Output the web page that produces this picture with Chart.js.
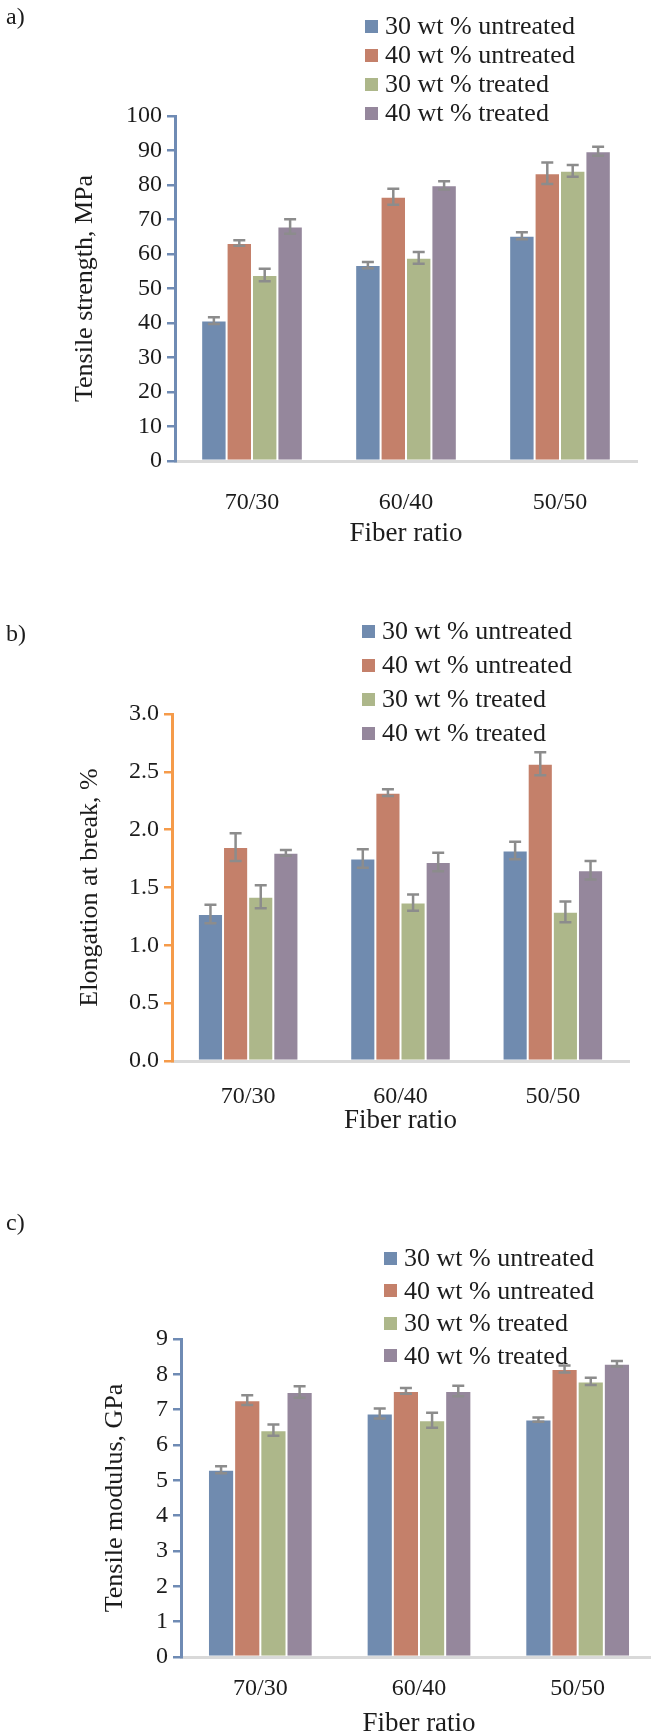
<!DOCTYPE html>
<html>
<head>
<meta charset="utf-8">
<script src="https://cdn.jsdelivr.net/npm/chart.js@4.4.1/dist/chart.umd.min.js"></script>
<style>
  html, body { margin: 0; padding: 0; background: #fff; }
  body { width: 651px; height: 1735px; position: relative; overflow: hidden;
         font-family: "Liberation Serif", serif; color: #1c1c1c; }
  canvas { position: absolute; left: 0; }
  .tag { position: absolute; left: 6px; font-size: 24px; line-height: 28px; }
  .row { position: absolute; font-size: 26px; line-height: 30px; white-space: nowrap; display: flex; align-items: center; }
  .row .box { width: 13px; height: 13px; margin-right: 7px; display: inline-block; }
</style>
</head>
<body>
<canvas id="chartA" width="651" height="560" style="top:0px"></canvas>
<canvas id="chartB" width="651" height="580" style="top:580px"></canvas>
<canvas id="chartC" width="670" height="575" style="top:1160px"></canvas>

<script>
// DATA
const fiberRatios = ["70/30", "60/40", "50/50"];
const seriesNames = ["30 wt % untreated", "40 wt % untreated", "30 wt % treated", "40 wt % treated"];
const seriesColors = ["#708BAF", "#C4806A", "#ADB78A", "#95879C"];

// a) Tensile strength, MPa
const strength30U = [40.7, 56.8, 65.3];
const strength40U = [63.2, 76.6, 83.4];
const strength30T = [53.9, 58.9, 84.1];
const strength40T = [68.0, 79.9, 89.8];
const strengthErr30U = [1.0, 0.9, 1.0];
const strengthErr40U = [0.8, 2.3, 3.1];
const strengthErr30T = [1.8, 1.7, 1.7];
const strengthErr40T = [2.1, 1.2, 1.3];
const strengthTicks = [0, 10, 20, 30, 40, 50, 60, 70, 80, 90, 100];

// b) Elongation at break, %
const elong30U = [1.27, 1.75, 1.82];
const elong40U = [1.85, 2.32, 2.57];
const elong30T = [1.42, 1.37, 1.29];
const elong40T = [1.80, 1.72, 1.65];
const elongErr30U = [0.08, 0.08, 0.075];
const elongErr40U = [0.12, 0.03, 0.10];
const elongErr30T = [0.10, 0.07, 0.09];
const elongErr40T = [0.025, 0.08, 0.08];
const elongTicks = [0, 0.5, 1.0, 1.5, 2.0, 2.5, 3.0];

// c) Tensile modulus, GPa
const modulus30U = [5.30, 6.89, 6.72];
const modulus40U = [7.27, 7.53, 8.15];
const modulus30T = [6.42, 6.70, 7.80];
const modulus40T = [7.50, 7.53, 8.30];
const modulusErr30U = [0.10, 0.14, 0.06];
const modulusErr40U = [0.14, 0.08, 0.10];
const modulusErr30T = [0.16, 0.21, 0.10];
const modulusErr40T = [0.16, 0.15, 0.08];
const modulusTicks = [0, 1, 2, 3, 4, 5, 6, 7, 8, 9];

// ================================
// Error bar plugin
// ================================
const errorBars = {
  id: "errorBars",
  afterDatasetsDraw(chart) {
    const ctx = chart.ctx;
    const y = chart.scales.y;
    ctx.save();
    ctx.strokeStyle = "#8C8C8C";
    ctx.lineWidth = 2.5;
    chart.data.datasets.forEach((ds, i) => {
      chart.getDatasetMeta(i).data.forEach((bar, j) => {
        const lo = y.getPixelForValue(ds.data[j] - ds.errors[j]);
        const hi = y.getPixelForValue(ds.data[j] + ds.errors[j]);
        const cap = 6;
        ctx.beginPath();
        ctx.moveTo(bar.x, lo); ctx.lineTo(bar.x, hi);
        ctx.moveTo(bar.x - cap, lo); ctx.lineTo(bar.x + cap, lo);
        ctx.moveTo(bar.x - cap, hi); ctx.lineTo(bar.x + cap, hi);
        ctx.stroke();
      });
    });
    ctx.restore();
  }
};

Chart.defaults.font.family = '"Liberation Serif", serif';
Chart.defaults.color = "#1c1c1c";

const TICK_FONT = 24;
const XTITLE_FONT = 27;
const YTITLE_FONT = 26;

function buildPanel(p) {
  const canvas = document.getElementById(p.id);
  const W = canvas.width, H = canvas.height;
  const datasets = p.series.map((vals, k) => ({
    label: seriesNames[k],
    data: vals,
    errors: p.errors[k],
    backgroundColor: seriesColors[k],
    borderColor: "rgba(255,255,255,0.35)",
    borderWidth: 1,
    barPercentage: 1,
    categoryPercentage: 0.66
  }));

  new Chart(canvas, {
    type: "bar",
    data: { labels: fiberRatios, datasets },
    plugins: [errorBars],
    options: {
      responsive: false,
      animation: false,
      layout: { padding: { top: p.plotTop - p.top, right: W - p.plotRight, left: 0, bottom: 0 } },
      plugins: { legend: { display: false }, tooltip: { enabled: false } },
      scales: {
        x: {
          afterFit: s => { s.height = p.top + H - p.plotBottom; },
          grid: { drawOnChartArea: false, drawTicks: false },
          border: { color: "#D9D9D9", width: 3 },
          ticks: { padding: p.catY - p.plotBottom - TICK_FONT * 0.6, font: { size: TICK_FONT } },
          title: {
            display: true, text: "Fiber ratio", font: { size: XTITLE_FONT },
            padding: { top: 0, bottom: p.top + H - p.titleY - XTITLE_FONT * 0.6 }
          }
        },
        y: {
          min: p.ticks[0],
          max: p.ticks[p.ticks.length - 1],
          afterFit: s => { s.width = p.plotLeft; },
          afterBuildTicks: s => { s.ticks = p.ticks.map(v => ({ value: v })); },
          grid: { drawOnChartArea: false, drawTicks: true, tickLength: 8, color: p.axisColor, lineWidth: 2.5 },
          border: { color: p.axisColor, width: 3 },
          ticks: { padding: 5, font: { size: TICK_FONT }, callback: v => p.fmt(v) },
          title: {
            display: true, text: p.yTitle, font: { size: YTITLE_FONT },
            padding: { top: p.yTitleX - YTITLE_FONT * 0.6, bottom: 0 }
          }
        }
      }
    }
  });

  // panel tag and legend as text
  const tag = document.createElement("div");
  tag.className = "tag";
  tag.textContent = p.tag;
  tag.style.top = (p.tagY - 14) + "px";
  document.body.appendChild(tag);

  seriesNames.forEach((name, k) => {
    const row = document.createElement("div");
    row.className = "row";
    row.style.left = p.legendX + "px";
    row.style.top = (p.legendY + k * p.legendStep - 15) + "px";
    row.innerHTML = `<span class="box" style="background:${seriesColors[k]}"></span>${name}`;
    document.body.appendChild(row);
  });
}

const panels = [
  {
    id: "chartA", top: 0, tag: "a)", tagY: 16,
    plotTop: 116, plotBottom: 461, plotLeft: 175, plotRight: 637,
    catY: 503, titleY: 534, yTitleX: 85,
    axisColor: "#6F8BB4", yTitle: "Tensile strength, MPa",
    ticks: strengthTicks, fmt: v => String(v),
    series: [strength30U, strength40U, strength30T, strength40T],
    errors: [strengthErr30U, strengthErr40U, strengthErr30T, strengthErr40T],
    legendX: 365, legendY: 26, legendStep: 29
  },
  {
    id: "chartB", top: 580, tag: "b)", tagY: 633,
    plotTop: 714, plotBottom: 1061, plotLeft: 172, plotRight: 629,
    catY: 1097, titleY: 1121, yTitleX: 90,
    axisColor: "#F59B4A", yTitle: "Elongation at break, %",
    ticks: elongTicks, fmt: v => v.toFixed(1),
    series: [elong30U, elong40U, elong30T, elong40T],
    errors: [elongErr30U, elongErr40U, elongErr30T, elongErr40T],
    legendX: 362, legendY: 631, legendStep: 34
  },
  {
    id: "chartC", top: 1160, tag: "c)", tagY: 1222,
    plotTop: 1339, plotBottom: 1657, plotLeft: 181, plotRight: 657,
    catY: 1689, titleY: 1724, yTitleX: 115,
    axisColor: "#6F8BB4", yTitle: "Tensile modulus, GPa",
    ticks: modulusTicks, fmt: v => String(v),
    series: [modulus30U, modulus40U, modulus30T, modulus40T],
    errors: [modulusErr30U, modulusErr40U, modulusErr30T, modulusErr40T],
    legendX: 384, legendY: 1258, legendStep: 32.5
  }
];

panels.forEach(buildPanel);
</script>
</body>
</html>
